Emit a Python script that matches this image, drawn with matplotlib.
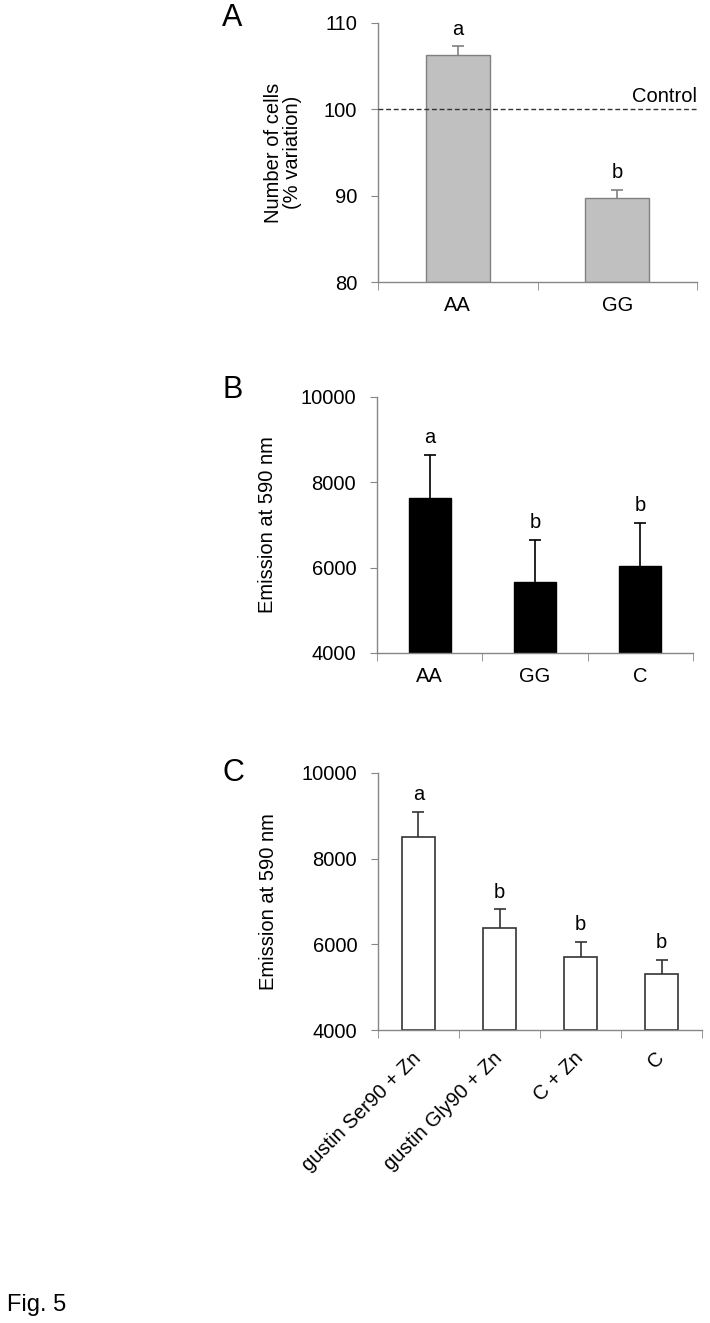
import matplotlib.pyplot as plt
from matplotlib.ticker import FixedLocator

plt.rcParams['font.family'] = ['Liberation Sans', 'DejaVu Sans']

# panel A
cats_a = ["AA", "GG"]
vals_a = [106.3, 89.7]
err_a = [1.0, 1.0]
sig_a = ["a", "b"]
control_a = 100

# panel B
cats_b = ["AA", "GG", "C"]
vals_b = [7640, 5660, 6040]
err_b = [1000, 1000, 1010]
sig_b = ["a", "b", "b"]

# panel C
cats_c = ["gustin Ser90 + Zn", "gustin Gly90 + Zn", "C + Zn", "C"]
vals_c = [8500, 6370, 5710, 5300]
err_c = [590, 445, 355, 335]
sig_c = ["a", "b", "b", "b"]

W, H = 710, 1323
FS = 14.5
AX_COL = "#868686"

fig = plt.figure(figsize=(W / 100, H / 100), dpi=100)


def make_ax(left, right, top, bottom):
    return fig.add_axes([left / W, 1 - bottom / H, (right - left) / W, (bottom - top) / H])


def style(ax, n, ylim, yticks):
    ax.set_xlim(0, n)
    ax.set_ylim(*ylim)
    ax.set_yticks(yticks)
    for s in ["top", "right"]:
        ax.spines[s].set_visible(False)
    for s in ["left", "bottom"]:
        ax.spines[s].set_color(AX_COL)
        ax.spines[s].set_linewidth(1.0)
    ax.tick_params(axis="y", direction="out", length=5, color=AX_COL, labelsize=FS, pad=10)
    ax.set_xticks([i + 0.5 for i in range(n)])
    ax.tick_params(axis="x", length=0, labelsize=FS, pad=10)
    ax.xaxis.set_minor_locator(FixedLocator(list(range(n + 1))))
    ax.tick_params(axis="x", which="minor", direction="out", length=6, color=AX_COL)


def bars(ax, vals, errs, sig, face, edge, ecol, lw):
    x = [i + 0.5 for i in range(len(vals))]
    lo = ax.get_ylim()[0]
    ax.bar(x, [v - lo for v in vals], bottom=lo, width=0.4, color=face,
           edgecolor=edge, linewidth=lw, zorder=2)
    eb = ax.errorbar(x, vals, yerr=[[0] * len(vals), errs], fmt="none", ecolor=ecol,
                     elinewidth=1.2, capsize=4, capthick=1.2, zorder=3)
    eb[1][0].set_visible(False)  # only the upper cap
    span = ax.get_ylim()[1] - lo
    for xi, v, e, s in zip(x, vals, errs, sig):
        ax.text(xi, v + e + span * 0.03, s, ha="center", va="bottom", fontsize=FS)


# A
axa = make_ax(378, 697, 23, 282)
style(axa, 2, (80, 110), [80, 90, 100, 110])
bars(axa, vals_a, err_a, sig_a, "#c0c0c0", "#808080", "#808080", 1.0)
axa.axhline(control_a, color="#333333", linestyle=(0, (3.5, 2)), linewidth=1.0, zorder=4)
axa.text(2, control_a + 0.4, "Control", ha="right", va="bottom", fontsize=FS)
axa.set_xticklabels(cats_a)
axa.set_ylabel("Number of cells\n(% variation)", fontsize=FS, labelpad=16, linespacing=1.0)

# B
axb = make_ax(377, 693, 397, 653)
style(axb, 3, (4000, 10000), [4000, 6000, 8000, 10000])
bars(axb, vals_b, err_b, sig_b, "black", "black", "black", 1.0)
axb.set_xticklabels(cats_b)
axb.set_ylabel("Emission at 590 nm", fontsize=FS, labelpad=17)

# C
axc = make_ax(378, 702, 773, 1030)
style(axc, 4, (4000, 10000), [4000, 6000, 8000, 10000])
bars(axc, vals_c, err_c, sig_c, "white", "#333333", "#333333", 1.2)
axc.set_xticklabels(cats_c, rotation=45, ha="right", va="center", rotation_mode="anchor")
axc.tick_params(axis="x", pad=18)
axc.set_ylabel("Emission at 590 nm", fontsize=FS, labelpad=17)

fig.text(222 / W, 1 - 18 / H, "A", fontsize=22, ha="left", va="center")
fig.text(222 / W, 1 - 390 / H, "B", fontsize=22, ha="left", va="center")
fig.text(222 / W, 1 - 773 / H, "C", fontsize=22, ha="left", va="center")
fig.text(7 / W, 1 - 1311 / H, "Fig. 5", fontsize=17, ha="left", va="baseline")

fig.savefig("out.png", dpi=100)
